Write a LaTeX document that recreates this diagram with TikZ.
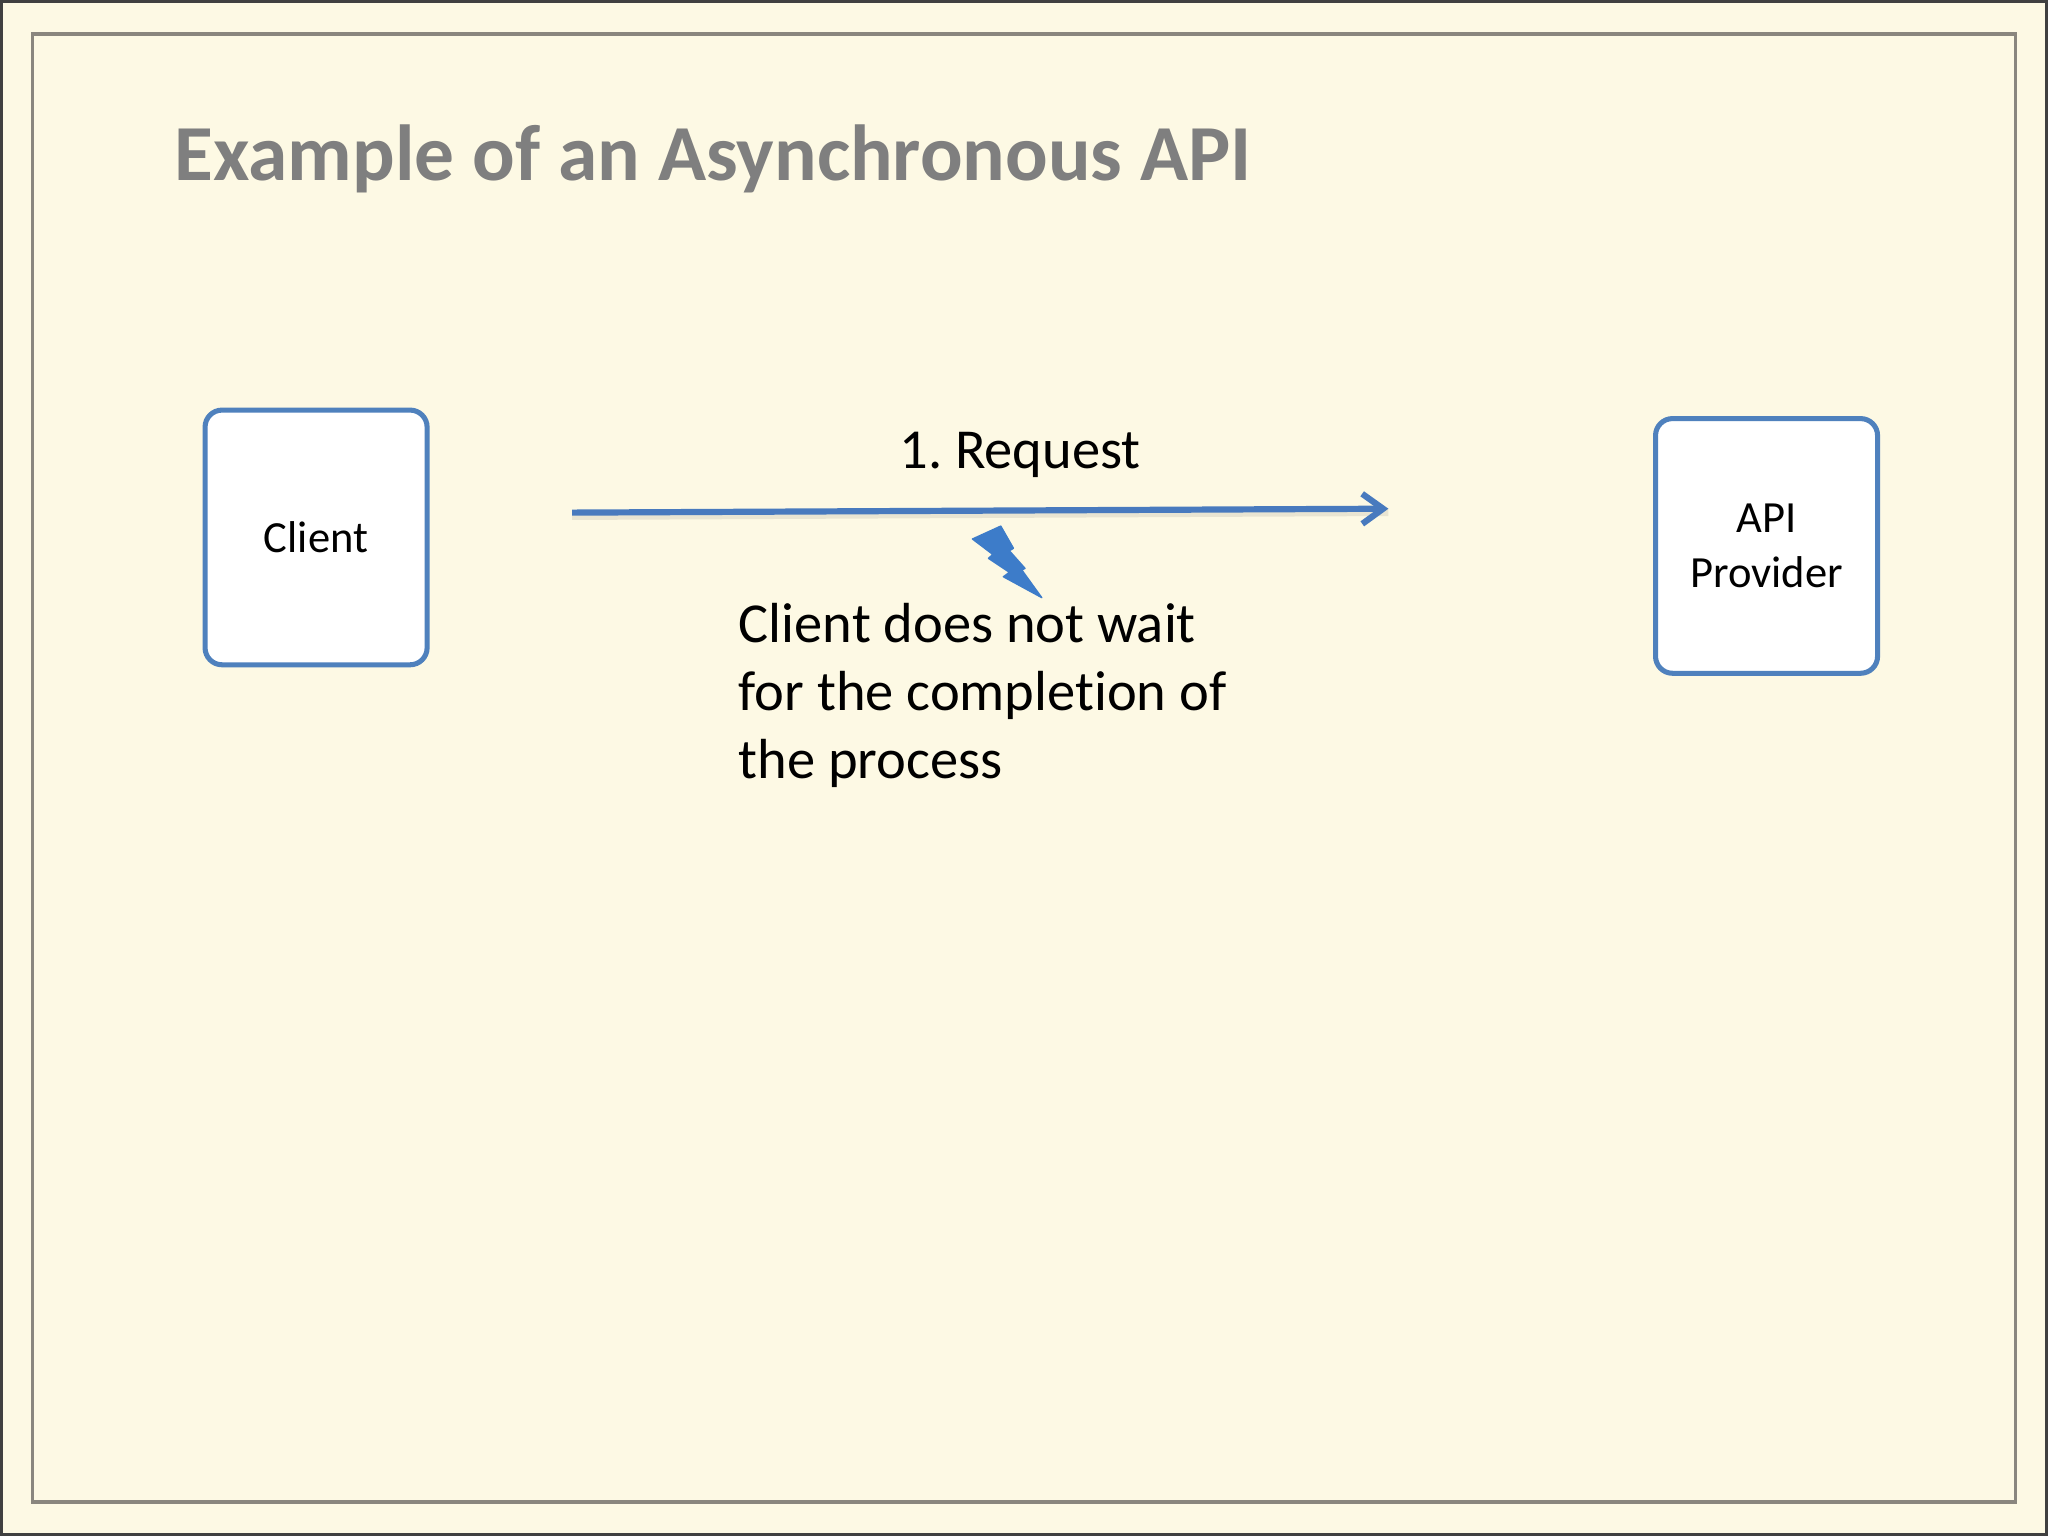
\documentclass[tikz,border=0pt]{standalone}
\usepackage{fontspec}
\setmainfont{Carlito}[Ligatures={NoCommon,NoContextual}]
\usepackage{tikz}
\usetikzlibrary{positioning}
\usetikzlibrary{arrows.meta}
\usetikzlibrary{calc}

\definecolor{slidebg}{RGB}{253,249,228}
\definecolor{framegray}{RGB}{138,134,126}
\definecolor{titlegray}{RGB}{127,127,127}
\definecolor{boxblue}{RGB}{79,129,189}
\definecolor{arrowblue}{RGB}{72,122,190}
\definecolor{boltblue}{RGB}{61,124,201}

\begin{document}
\frenchspacing
\begin{tikzpicture}[
  party/.style={draw=boxblue, line width=1.1pt, fill=white, rounded corners=0.13cm,
    minimum width=1.70cm, minimum height=1.95cm, align=center, inner sep=0pt,
    font=\fontsize{9.7}{11.9}\selectfont},
  reqarrow/.style={draw=arrowblue, line width=1.35pt, -{Straight Barb[length=1.6mm,width=2.3mm]}},
  shadowline/.style={draw=black, opacity=0.08, line width=1.6pt, transform canvas={yshift=-0.8pt}},
  bigtext/.style={inner sep=0pt, font=\fontsize{12.3}{14.8}\selectfont}
]
\useasboundingbox (0,0) rectangle (15.68,11.76);
%slide background and frame
\draw[fill=slidebg, draw=black!75, line width=0.6pt](0.01,0.01) rectangle (15.67,11.75);
\draw[framegray, line width=0.7pt](0.25,0.26) rectangle (15.43,11.50);

%title
\node[anchor=base west, inner sep=0pt, text=titlegray,
  font=\bfseries\fontsize{17.3}{20}\selectfont] (title) at (1.33,10.38) {Example of an Asynchronous API};

%client and provider
\node[party] (client) at (2.42,7.645) {Client};
\node[party] (provider) at (13.525,7.58) {API\\Provider};

%request arrow
\coordinate (reqstart) at (4.38,7.835);
\coordinate (reqend) at (10.63,7.865);
\draw[shadowline] (reqstart) -- (reqend);
\draw[reqarrow] (reqstart) -- (reqend);
\node[bigtext, anchor=base] (reqlabel) at (7.81,8.174) {1. Request};

%lightning
\draw[fill=boltblue, draw=boltblue, line width=0.3pt, line join=round]
  (7.445,7.633) -- (7.662,7.732) -- (7.759,7.562) -- (7.728,7.543) -- (7.848,7.408)
  -- (7.823,7.396) -- (7.976,7.184) -- (7.682,7.344) -- (7.728,7.378) -- (7.568,7.485)
  -- (7.601,7.515) -- cycle;

%note (base = last line)
\node[bigtext, anchor=base west, align=left] (note) at (5.65,5.80)
  {Client does not wait\\for the completion of\\the process};
\end{tikzpicture}
\end{document}
